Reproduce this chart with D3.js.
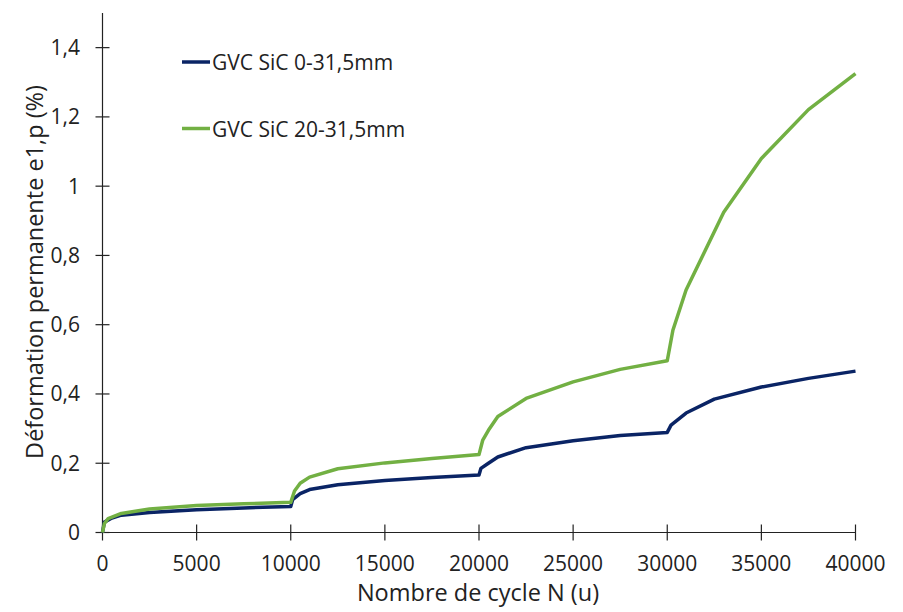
<!DOCTYPE html>
<html>
<head>
<meta charset="utf-8">
<script src="https://cdn.jsdelivr.net/npm/d3@7"></script>
<style>
  body { margin: 0; background: #fff; }
  text { font-family: "Open Sans", "Noto Sans", sans-serif; fill: #222; }
</style>
</head>
<body>
<svg></svg>
<script>

// cycles (N) and permanent strain (%)
let cyclesA = [0, 100, 500, 1000, 2500, 5000, 7500, 10000, 10100, 10500, 11000, 12500, 15000, 17500, 20000,
  20100, 20500, 21000, 22500, 25000, 27500, 30000, 30200, 31000, 32500, 35000, 37500, 40000]
let strainA = [0, 0.03, 0.042, 0.05, 0.058, 0.066, 0.071, 0.075, 0.095, 0.112, 0.124, 0.138, 0.150, 0.159, 0.166,
  0.185, 0.200, 0.218, 0.245, 0.265, 0.280, 0.289, 0.31, 0.345, 0.385, 0.42, 0.445, 0.466]

let cyclesB = [0, 100, 300, 1000, 2500, 5000, 7500, 10000, 10200, 10500, 11000, 12500, 15000, 17500, 20000,
  20200, 20500, 21000, 22500, 25000, 27500, 30000, 30300, 31000, 33000, 35000, 37500, 40000]
let strainB = [0, 0.026, 0.04, 0.055, 0.068, 0.078, 0.083, 0.087, 0.12, 0.142, 0.16, 0.184, 0.201, 0.214, 0.225,
  0.267, 0.295, 0.335, 0.387, 0.435, 0.471, 0.496, 0.584, 0.70, 0.925, 1.08, 1.221, 1.325]

let seriesNames = ['GVC SiC 0-31,5mm', 'GVC SiC 20-31,5mm']
let seriesColors = ['#0a2465', '#72b043']
let xTicks = [0, 5000, 10000, 15000, 20000, 25000, 30000, 35000, 40000]
let yTicks = [0, 0.2, 0.4, 0.6, 0.8, 1, 1.2, 1.4]

let width = 903, height = 612
let svg = d3.select('svg').attr('width', width).attr('height', height)

let x = d3.scaleLinear().domain([0, 40000]).range([102.5, 855.5])
let y = d3.scaleLinear().domain([0, 1.5]).range([532.5, 13])

let fmt = d => String(d).replace('.', ',')

// y axis
svg.append('line')
  .attr('x1', x(0)).attr('x2', x(0))
  .attr('y1', y(1.5)).attr('y2', y(0))
  .attr('stroke', '#222').attr('stroke-width', 1.2)

svg.append('g').selectAll('line')
  .data(yTicks)
  .enter().append('line')
  .attr('x1', x(0) - 7).attr('x2', x(0) + 7)
  .attr('y1', d => y(d)).attr('y2', d => y(d))
  .attr('stroke', '#222').attr('stroke-width', 1.2)

svg.append('g').selectAll('text')
  .data(yTicks)
  .enter().append('text')
  .attr('x', 80)
  .attr('y', d => y(d) + 7.5)
  .attr('text-anchor', 'end')
  .attr('font-size', 21)
  .text(fmt)

// x axis
svg.append('line')
  .attr('x1', x(0)).attr('x2', x(40000))
  .attr('y1', y(0)).attr('y2', y(0))
  .attr('stroke', '#222').attr('stroke-width', 1.2)

svg.append('g').selectAll('line')
  .data(xTicks)
  .enter().append('line')
  .attr('x1', d => x(d)).attr('x2', d => x(d))
  .attr('y1', y(0) - 8).attr('y2', y(0) + 8)
  .attr('stroke', '#222').attr('stroke-width', 1.2)

svg.append('g').selectAll('text')
  .data(xTicks)
  .enter().append('text')
  .attr('x', d => x(d))
  .attr('y', 571)
  .attr('text-anchor', 'middle')
  .attr('font-size', 21)
  .text(d => d)

// axis titles
svg.append('text')
  .attr('x', 478).attr('y', 601)
  .attr('text-anchor', 'middle')
  .attr('font-size', 23.5)
  .text('Nombre de cycle N (u)')

svg.append('text')
  .attr('transform', 'translate(43,272) rotate(-90)')
  .attr('text-anchor', 'middle')
  .attr('font-size', 23.5)
  .text('Déformation permanente e1,p (%)')

// curves
let series = [
  cyclesA.map((n, i) => [n, strainA[i]]),
  cyclesB.map((n, i) => [n, strainB[i]])
]

let line = d3.line()
  .x(d => x(d[0]))
  .y(d => y(d[1]))

svg.append('g').selectAll('path')
  .data(series)
  .enter().append('path')
  .attr('d', line)
  .attr('fill', 'none')
  .attr('stroke', (d, i) => seriesColors[i])
  .attr('stroke-width', 3.5)
  .attr('stroke-linejoin', 'round')

// legend
let legend = svg.append('g').selectAll('g')
  .data(seriesNames)
  .enter().append('g')
  .attr('transform', (d, i) => `translate(182,${62 + i * 66.5})`)

legend.append('line')
  .attr('x1', 0).attr('x2', 28)
  .attr('stroke', (d, i) => seriesColors[i])
  .attr('stroke-width', 3.5)

legend.append('text')
  .attr('x', 30).attr('y', 8)
  .attr('font-size', 21)
  .text(d => d)

</script>
</body>
</html>
